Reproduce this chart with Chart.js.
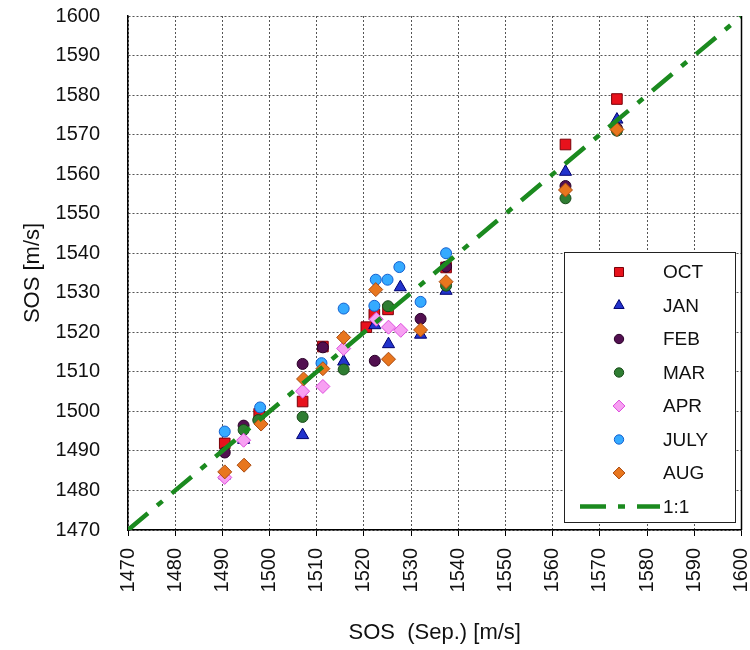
<!DOCTYPE html>
<html><head><meta charset="utf-8">
<script src="https://cdn.jsdelivr.net/npm/chart.js@4.4.0/dist/chart.umd.min.js"></script>
<style>html,body{margin:0;padding:0;background:#fff}#wrap{width:750px;height:650px}</style>
</head><body><div id="wrap"><canvas id="c" width="750" height="650"></canvas></div>
<script>
// ---- data ----
const seriesNames = ['OCT', 'JAN', 'FEB', 'MAR', 'APR', 'JULY', 'AUG'];
const octSep  = [1490.5, 1497.8, 1507.0, 1511.3, 1520.5, 1522.2, 1525.1, 1537.4, 1562.7, 1573.6];
const octSos  = [1491.9, 1499.4, 1502.5, 1516.4, 1521.3, 1524.5, 1525.8, 1536.4, 1567.5, 1579.0];
const janSep  = [1490.5, 1494.5, 1507.0, 1515.7, 1522.3, 1525.2, 1527.7, 1532.0, 1537.4, 1562.7, 1573.6];
const janSos  = [1483.8, 1492.8, 1494.0, 1512.6, 1521.8, 1517.0, 1531.4, 1519.4, 1530.5, 1560.6, 1573.8];
const febSep  = [1490.5, 1494.5, 1507.0, 1511.3, 1522.3, 1532.0, 1537.4, 1562.7, 1573.6];
const febSos  = [1489.6, 1496.4, 1512.0, 1516.2, 1512.8, 1523.4, 1536.6, 1557.0, 1571.6];
const marSep  = [1494.5, 1497.6, 1507.0, 1515.7, 1525.1, 1537.4, 1562.7, 1573.6];
const marSos  = [1495.3, 1497.8, 1498.6, 1510.6, 1526.6, 1531.8, 1553.9, 1571.0];
const aprSep  = [1490.5, 1494.5, 1507.0, 1511.3, 1515.7, 1522.6, 1525.2, 1527.8];
const aprSos  = [1483.3, 1492.7, 1505.1, 1506.3, 1515.9, 1523.3, 1521.3, 1520.5];
const julySep = [1490.5, 1498.0, 1511.0, 1515.7, 1522.2, 1522.5, 1525.0, 1527.5, 1532.0, 1537.4];
const julySos = [1494.9, 1501.0, 1512.2, 1526.0, 1526.7, 1533.3, 1533.3, 1536.5, 1527.7, 1540.0];
const augSep  = [1490.5, 1494.6, 1498.2, 1507.2, 1511.3, 1515.7, 1522.5, 1525.2, 1532.0, 1537.4, 1562.7, 1573.6];
const augSos  = [1484.7, 1486.4, 1496.8, 1508.2, 1510.8, 1518.7, 1530.8, 1513.2, 1520.6, 1532.8, 1556.0, 1571.3];
const oneToOneLabel = '1:1';
const oneToOneSep = [1470, 1600];
const oneToOneSos = [1470, 1600];
const axisMin = 1470, axisMax = 1600, axisStep = 10;
const xTitle = 'SOS  (Sep.) [m/s]';
const yTitle = 'SOS [m/s]';

// ---- build ----
const zip = (xs, ys) => xs.map((x, i) => ({x: x, y: ys[i]}));
const FONT = "'Liberation Sans', Arial, sans-serif";
const styles = [
  {pointStyle: 'rect',     radius: 7.5, bg: '#e8121c', bd: '#7a0008'},
  {pointStyle: 'triangle', radius: 7,   bg: '#2233cc', bd: '#000070'},
  {pointStyle: 'circle',   radius: 5.5, bg: '#521050', bd: '#2a0028'},
  {pointStyle: 'circle',   radius: 5.5, bg: '#2f7d32', bd: '#174a18'},
  {pointStyle: 'rectRot',  radius: 7,   bg: '#f7a0f2', bd: '#dd4ddd'},
  {pointStyle: 'circle',   radius: 5.5, bg: '#35aaff', bd: '#1260d0'},
  {pointStyle: 'rectRot',  radius: 7,   bg: '#e8761e', bd: '#a94a10'}
];
const seriesData = [zip(octSep, octSos), zip(janSep, janSos), zip(febSep, febSos), zip(marSep, marSos),
                    zip(aprSep, aprSos), zip(julySep, julySos), zip(augSep, augSos)];
const lineColor = '#1b8a1f';
const lineDash = [26, 12, 7, 12];

const datasets = seriesNames.map((name, i) => ({
  type: 'scatter', label: name, data: seriesData[i],
  pointStyle: styles[i].pointStyle, pointRadius: styles[i].radius,
  backgroundColor: styles[i].bg, borderColor: styles[i].bd, borderWidth: 1,
  order: 20 - i
}));
datasets.push({
  type: 'line', label: oneToOneLabel, data: zip(oneToOneSep, oneToOneSos),
  borderColor: lineColor, borderWidth: 4.5, borderDash: lineDash, pointRadius: 0,
  fill: false, showLine: true, tension: 0, order: 0, borderCapStyle: 'butt'
});

function drawShape(ctx, style, radius, x, y) {
  if (Chart.helpers && Chart.helpers.drawPoint) {
    Chart.helpers.drawPoint(ctx, {pointStyle: style, radius: radius, rotation: 0, borderWidth: 1}, x, y);
  }
}

const legendPlugin = {
  id: 'boxLegend',
  afterDraw(chart) {
    const ctx = chart.ctx;
    const ca = chart.chartArea;
    ctx.save();
    // solid right frame
    ctx.strokeStyle = '#000'; ctx.lineWidth = 1.5; ctx.setLineDash([]);
    ctx.beginPath(); ctx.moveTo(ca.right, ca.top); ctx.lineTo(ca.right, ca.bottom); ctx.stroke();
    // legend box
    const bx = 564, by = 252, bw = 171, bh = 270;
    ctx.fillStyle = '#fff'; ctx.fillRect(bx, by, bw, bh);
    ctx.strokeStyle = '#222'; ctx.lineWidth = 1; ctx.strokeRect(bx + 0.5, by + 0.5, bw, bh);
    const rowTop = 272, rowStep = 33.5, mx = 619, tx = 663;
    ctx.font = '19px ' + FONT; ctx.textBaseline = 'middle'; ctx.textAlign = 'left';
    chart.data.datasets.forEach((ds, i) => {
      const y = rowTop + i * rowStep;
      if (ds.type === 'line') {
        ctx.strokeStyle = ds.borderColor; ctx.lineWidth = 4.5; ctx.setLineDash(ds.borderDash);
        ctx.beginPath(); ctx.moveTo(580, y); ctx.lineTo(660, y); ctx.stroke();
        ctx.setLineDash([]);
      } else {
        ctx.fillStyle = ds.backgroundColor; ctx.strokeStyle = ds.borderColor; ctx.lineWidth = 1;
        drawShape(ctx, ds.pointStyle, ds.pointRadius * 0.85, mx, y);
      }
      ctx.fillStyle = '#111';
      ctx.fillText(ds.label, tx, y + 1);
    });
    ctx.restore();
  }
};

new Chart(document.getElementById('c'), {
  data: {datasets: datasets},
  plugins: [legendPlugin],
  options: {
    responsive: false, animation: false, devicePixelRatio: 1,
    layout: {padding: {top: 16, right: 4, left: 0, bottom: 0}},
    plugins: {legend: {display: false}, tooltip: {enabled: false}},
    scales: {
      x: {
        type: 'linear', min: axisMin, max: axisMax,
        afterFit: s => { s.height = 120; s.paddingLeft = 0; s.paddingRight = 0; },
        ticks: {stepSize: axisStep, autoSkip: false, minRotation: 90, maxRotation: 90, padding: 12,
                color: '#111', font: {family: FONT, size: 20}, callback: v => String(v)},
        grid: {color: '#555', lineWidth: 1, drawTicks: true, tickLength: 6, tickColor: '#000', tickWidth: 1, tickBorderDash: []},
        border: {display: true, color: '#000', width: 1.5, dash: [2, 2]},
        title: {display: true, text: xTitle, color: '#111', font: {family: FONT, size: 22}, padding: {top: 0, bottom: 4}}
      },
      y: {
        type: 'linear', min: axisMin, max: axisMax,
        afterFit: s => { s.width = 128; s.paddingTop = 0; s.paddingBottom = 0; },
        ticks: {stepSize: axisStep, autoSkip: false, padding: 28, color: '#111',
                font: {family: FONT, size: 20}, callback: v => String(v)},
        grid: {color: '#555', lineWidth: 1, drawTicks: false},
        border: {display: true, color: '#000', width: 1.5, dash: [2, 2]},
        title: {display: true, text: yTitle, color: '#111', font: {family: FONT, size: 22}, padding: {top: 20, bottom: 0}}
      }
    }
  }
});
</script></body></html>
